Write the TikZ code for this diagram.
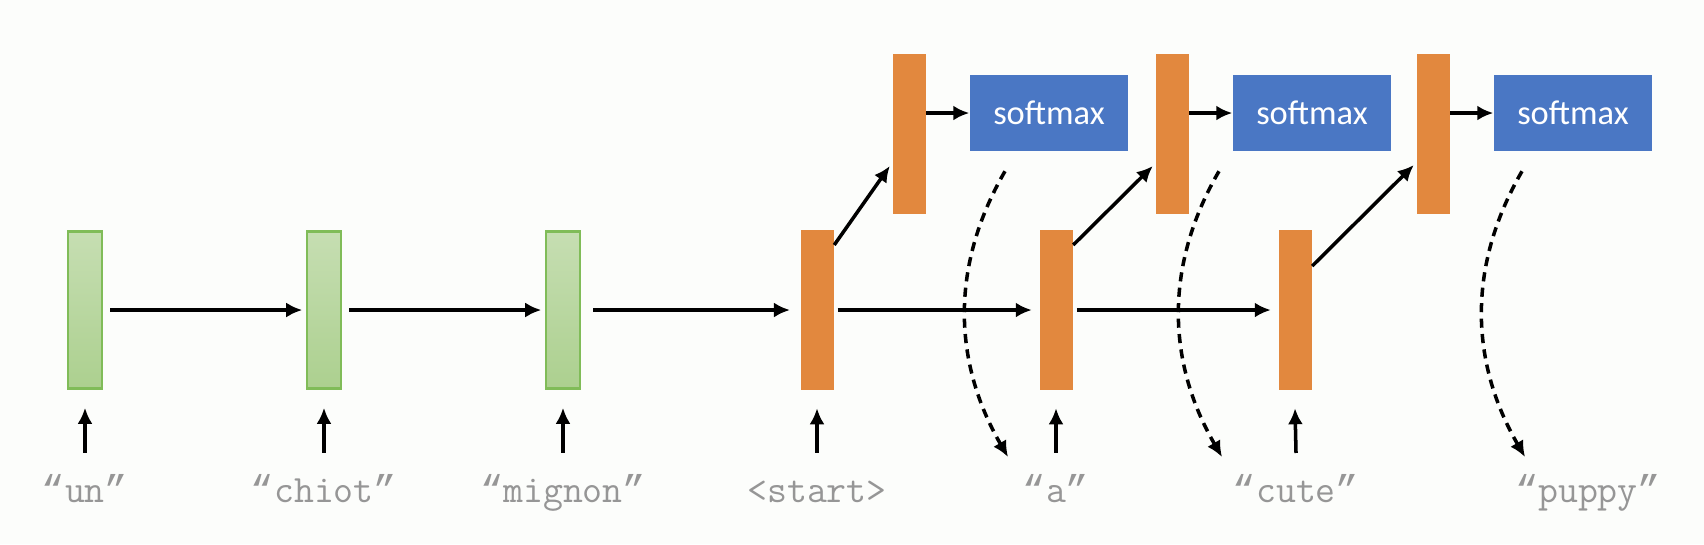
\documentclass[tikz,border=0pt]{standalone}
\usepackage{fontspec}
\setmainfont{Carlito}
\newfontfamily\quotefont{Liberation Mono}
\newcommand{\wordq}[1]{{\quotefont“}#1{\quotefont”}}
\usepackage{tikz}
\usetikzlibrary{arrows.meta}
\definecolor{pagebg}{RGB}{252,253,251}
\definecolor{enctop}{RGB}{198,222,178}
\definecolor{encbottom}{RGB}{172,208,143}
\definecolor{encborder}{RGB}{128,188,88}
\definecolor{decorange}{RGB}{226,136,62}
\definecolor{softblue}{RGB}{74,119,196}
\definecolor{wordgray}{RGB}{150,150,150}

\begin{document}
\begin{tikzpicture}[x=0.01cm,y=-0.01cm]
  \tikzset{encbox/.style={draw=encborder,line width=0.7pt,top color=enctop,bottom color=encbottom,minimum width=0.34cm,minimum height=1.57cm,inner sep=0pt}}
  \tikzset{decbox/.style={fill=decorange,minimum width=0.33cm,minimum height=1.59cm,inner sep=0pt}}
  \tikzset{softbox/.style={fill=softblue,text=white,font=\fontsize{9.8}{12}\selectfont,minimum width=1.58cm,minimum height=0.75cm,inner sep=0pt}}
  \tikzset{wordlabel/.style={anchor=base,text=wordgray,font=\ttfamily\fontsize{11}{13}\selectfont,inner sep=0pt}}
  \tikzset{seqarrow/.style={draw=black,line width=1pt,-{Latex[length=1.6mm,width=1.5mm]}}}
  \tikzset{samplearrow/.style={seqarrow,dash pattern=on 2.6pt off 1.8pt}}
  \fill[pagebg] (0,0) rectangle (1704,544);
  \useasboundingbox (0,0) rectangle (1704,544);
  % encoder
  \node[encbox] (g1) at (85,310) {};
  \node[encbox] (g2) at (324,310) {};
  \node[encbox] (g3) at (563,310) {};
  % decoder, lower and upper layer
  \node[decbox] (lo1) at (817,310) {};
  \node[decbox] (lo2) at (1056,310) {};
  \node[decbox] (lo3) at (1295,310) {};
  \node[decbox] (up1) at (909,134) {};
  \node[decbox] (up2) at (1172,134) {};
  \node[decbox] (up3) at (1433,134) {};
  \node[softbox] (s1) at (1049,113) {softmax};
  \node[softbox] (s2) at (1312,113) {softmax};
  \node[softbox] (s3) at (1573,113) {softmax};
  % words
  \node[wordlabel] (w1) at (85,502) {\wordq{un}};
  \node[wordlabel] (w2) at (324,502) {\wordq{chiot}};
  \node[wordlabel] (w3) at (563,502) {\wordq{mignon}};
  \node[wordlabel] (w4) at (817,502) {<start>};
  \node[wordlabel] (w5) at (1056,502) {\wordq{a}};
  \node[wordlabel] (w6) at (1296,502) {\wordq{cute}};
  \node[wordlabel] (w7) at (1588,502) {\wordq{puppy}};
  \coordinate (e1) at (1008,457);
  \coordinate (e2) at (1222,457);
  \coordinate (e3) at (1525,457);
  % recurrence
  \draw[seqarrow,shorten <=2pt,shorten >=1pt] (g1.east) -- (g2.west);
  \draw[seqarrow,shorten <=2pt,shorten >=1pt] (g2.east) -- (g3.west);
  \draw[seqarrow,shorten <=3.4pt,shorten >=2.8pt] (g3.east) -- (lo1.west);
  \draw[seqarrow,shorten <=1pt,shorten >=2pt] (lo1.east) -- (lo2.west);
  \draw[seqarrow,shorten <=1pt,shorten >=2pt] (lo2.east) -- (lo3.west);
  % lower to upper layer
  \draw[seqarrow] ([yshift=0.65cm]lo1.east) -- ([yshift=-0.32cm,xshift=-0.02cm]up1.west);
  \draw[seqarrow] ([yshift=0.65cm]lo2.east) -- ([yshift=-0.32cm,xshift=-0.02cm]up2.west);
  \draw[seqarrow] ([yshift=0.44cm]lo3.east) -- ([yshift=-0.31cm,xshift=-0.02cm]up3.west);
  \draw[seqarrow] (up1.east |- s1.west) -- (s1.west);
  \draw[seqarrow] (up2.east |- s2.west) -- (s2.west);
  \draw[seqarrow] (up3.east |- s3.west) -- (s3.west);
  % inputs
  \foreach \w/\b in {w1/g1,w2/g2,w3/g3,w4/lo1,w5/lo2,w6/lo3}
    \draw[seqarrow] ([yshift=0.49cm]\w.base) -- ([yshift=-0.18cm]\b.south);
  % sampled words
  \draw[samplearrow] ([shift={(-0.44cm,-0.2cm)}]s1.south) .. controls +(-55,95) and +(-55,-95) .. (e1);
  \draw[samplearrow] ([shift={(-0.93cm,-0.2cm)}]s2.south) .. controls +(-55,95) and +(-55,-95) .. (e2);
  \draw[samplearrow] ([shift={(-0.51cm,-0.2cm)}]s3.south) .. controls +(-55,95) and +(-55,-95) .. (e3);
\end{tikzpicture}
\end{document}
